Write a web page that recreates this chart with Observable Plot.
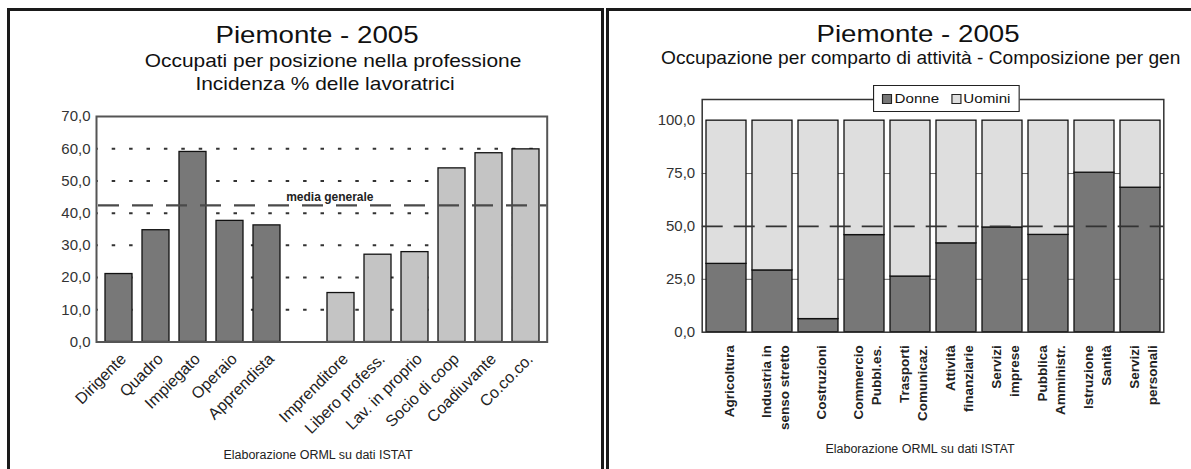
<!DOCTYPE html>
<html>
<head>
<meta charset="utf-8">
<script src="https://cdn.jsdelivr.net/npm/d3@7"></script>
<script src="https://cdn.jsdelivr.net/npm/@observablehq/plot@0.6"></script>
<style>
  html, body { margin: 0; padding: 0; background: #fff; }
  body { font-family: "Liberation Sans", Arial, sans-serif; }
  #root { position: relative; width: 1191px; height: 469px; overflow: hidden; background: #fff; }
  .panel { position: absolute; box-sizing: border-box; border: 3px solid #1a1a1a; }
  .t { position: absolute; white-space: nowrap; line-height: 1; color: #111; }
  .c { transform: translateX(-50%) scaleX(1.13); }
  .plot { position: absolute; top: 0; }
  #legR { position: absolute; left: 873px; top: 85px; width: 131px; height: 27px; box-sizing: border-box;
          border: 1px solid #222; background: #fff; display: flex; align-items: center; justify-content: space-around;
          padding: 0 2px; font-size: 13.5px; color: #111; transform-origin: 0 0; transform: scaleX(1.12); }
  #legR .it { display: flex; align-items: center; }
  #legR .sw { display: inline-block; width: 7px; height: 8px; border: 1px solid #222; margin-right: 2px; }
</style>
</head>
<body>
<div id="root">
  <div class="panel" style="left:7px; top:8px; width:597px; height:480px;"></div>
  <div class="panel" style="left:606px; top:8px; width:640px; height:480px;"></div>

  <div class="t c" style="left:316.5px; top:22.6px; font-size:24.5px;">Piemonte - 2005</div>
  <div class="t c" style="left:333px; top:52px; font-size:18.5px;">Occupati per posizione nella professione</div>
  <div class="t c" style="left:325px; top:75.3px; font-size:18.5px;">Incidenza % delle lavoratrici</div>
  <div class="t c" style="left:318px; top:448.8px; font-size:12px; color:#222; transform: translateX(-50%) scaleX(1.04);">Elaborazione ORML su dati ISTAT</div>

  <div class="t c" style="left:918px; top:21.6px; font-size:24.5px;">Piemonte - 2005</div>
  <div class="t" style="left:661px; top:49.3px; font-size:18.5px; transform-origin:0 0; transform:scaleX(1.035);">Occupazione per comparto di attività - Composizione per gen</div>
  <div class="t c" style="left:920px; top:442.5px; font-size:12px; color:#222; transform: translateX(-50%) scaleX(1.04);">Elaborazione ORML su dati ISTAT</div>
</div>
<script>
// ---------- Left chart data ----------
const posizioni = ["Dirigente", "Quadro", "Impiegato", "Operaio", "Apprendista",
                   "Imprenditore", "Libero profess.", "Lav. in proprio", "Socio di coop", "Coadiuvante", "Co.co.co."];
const incidenza = [21.1, 34.7, 59.0, 37.6, 36.2, 15.2, 27.1, 27.9, 53.9, 58.6, 59.8];
const gruppo = ["dipendenti", "dipendenti", "dipendenti", "dipendenti", "dipendenti",
                "indipendenti", "indipendenti", "indipendenti", "indipendenti", "indipendenti", "indipendenti"];
const mediaGenerale = 42.4;
const etichettaMedia = "media generale";
const yTicksL = [0, 10, 20, 30, 40, 50, 60, 70];
const grigliaL = [10, 20, 30, 40, 50, 60];

// ---------- Right chart data ----------
const comparti = ["Agricoltura", "Industria in\nsenso stretto", "Costruzioni", "Commercio\nPubbl.es.",
                  "Trasporti\nComunicaz.", "Attività\nfinanziarie", "Servizi\nimprese", "Pubblica\nAmministr.",
                  "Istruzione\nSanità", "Servizi\npersonali"];
const donne = [32.3, 29.2, 6.2, 45.9, 26.3, 42.0, 49.5, 46.0, 75.4, 68.3];
const sessi = ["Donne", "Uomini"];
const coloriSessi = ["#777777", "#dedede"];
const yTicksR = [0, 25, 50, 75, 100];
const soglia = 50;

const fmt = d => d.toFixed(1).replace(".", ",");
const FONT = "'Liberation Sans', Arial, sans-serif";
const root = document.getElementById("root");

// ---------- Left chart ----------
const spacer = " ";
const dominioL = [...posizioni.slice(0, 5), spacer, ...posizioni.slice(5)];
const dataL = posizioni.map((p, i) => ({p, v: incidenza[i], g: gruppo[i]}));

const left = Plot.plot({
  width: 604, height: 469,
  marginLeft: 96, marginRight: 57.3, marginTop: 116, marginBottom: 127.5,
  style: {fontFamily: FONT, background: "transparent", overflow: "visible"},
  x: {domain: dominioL, paddingInner: 0.28, paddingOuter: 0.14, axis: null},
  y: {domain: [0, 70], label: null, axis: null},
  color: {domain: ["dipendenti", "indipendenti"], range: ["#787878", "#c4c4c4"]},
  marks: [
    Plot.ruleY(grigliaL, {stroke: "#333", strokeWidth: 2, strokeDasharray: "3.5,13.9", strokeDashoffset: 1.7}),
    Plot.barY(dataL, {x: "p", y: "v", fill: "g", stroke: "#111", strokeWidth: 1.3}),
    Plot.ruleY([mediaGenerale], {stroke: "#4a4a4a", strokeWidth: 2.2, strokeDasharray: "21,13", strokeDashoffset: -2}),
    Plot.text([{v: mediaGenerale, t: etichettaMedia}], {y: "v", text: "t", frameAnchor: "middle", dx: 8, dy: -8,
      fontWeight: "bold", fontSize: 12, fill: "#222"}),
    Plot.frame({stroke: "#555", strokeWidth: 2}),
    Plot.axisY({ticks: yTicksL, tickFormat: fmt, tickSize: 0, tickPadding: 6, fontSize: 15, color: "#333", label: null}),
    Plot.text(posizioni, {x: d => d, text: d => d, frameAnchor: "bottom", rotate: -45, textAnchor: "end",
      dx: 8, dy: 18, fontSize: 16, fill: "#222"})
  ]
});
left.classList.add("plot");
left.style.left = "0px";
root.appendChild(left);

// ---------- Right chart ----------
const dataR = comparti.flatMap((c, i) => [
  {c, sesso: sessi[0], v: donne[i]},
  {c, sesso: sessi[1], v: 100 - donne[i]}
]);

const right = Plot.plot({
  width: 582, height: 469,
  marginLeft: 92.7, marginRight: 27.7, marginTop: 99, marginBottom: 137.3,
  style: {fontFamily: FONT, background: "transparent", overflow: "visible"},
  x: {domain: comparti, paddingInner: 0.14, paddingOuter: 0.07, axis: null},
  y: {domain: [0, 110], label: null, axis: null},
  color: {domain: sessi, range: coloriSessi},
  marks: [
    Plot.ruleY([25, 75], {stroke: "#666", strokeWidth: 1}),
    Plot.barY(dataR, {x: "c", y: "v", fill: "sesso", stroke: "#111", strokeWidth: 1.3}),
    Plot.ruleY([soglia], {stroke: "#333", strokeWidth: 1.8, strokeDasharray: "21,11"}),
    Plot.frame({stroke: "#333", strokeWidth: 1.5}),
    Plot.axisY({ticks: yTicksR, tickFormat: fmt, tickSize: 0, tickPadding: 7, fontSize: 15, color: "#333", label: null}),
    Plot.text(comparti, {x: d => d, text: d => d, frameAnchor: "bottom", rotate: -90, textAnchor: "end",
      lineAnchor: "middle", lineHeight: 1.27, dx: 2, dy: 13, fontSize: 13.5, fontWeight: "bold", fill: "#222"})
  ]
});
right.classList.add("plot");
right.style.left = "609px";
root.appendChild(right);

// ---------- Legend (built from the colour scale arrays) ----------
const leg = document.createElement("div");
leg.id = "legR";
sessi.forEach((s, i) => {
  const it = document.createElement("span");
  it.className = "it";
  const sw = document.createElement("span");
  sw.className = "sw";
  sw.style.background = coloriSessi[i];
  it.appendChild(sw);
  it.appendChild(document.createTextNode(s));
  leg.appendChild(it);
});
root.appendChild(leg);
</script>
</body>
</html>
